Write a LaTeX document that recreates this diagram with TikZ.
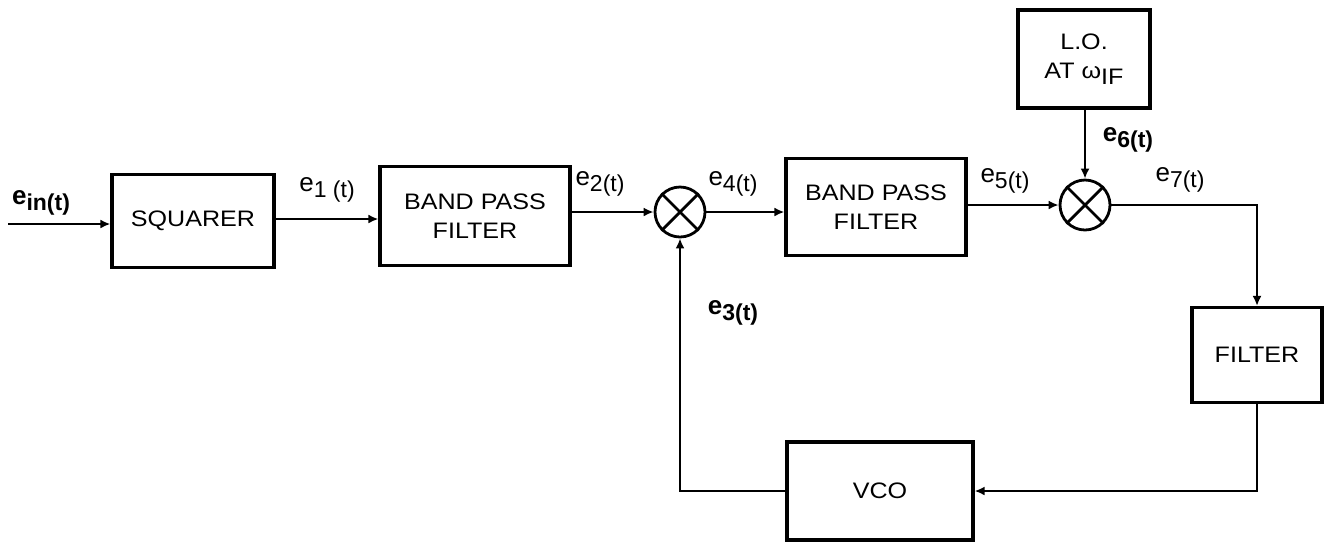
\documentclass[tikz,border=0pt]{standalone}
\usepackage{fontspec}
\setmainfont{Liberation Sans}
\newfontfamily\boxfont[FakeStretch=1.12]{Liberation Sans}
\usetikzlibrary{arrows.meta}
\tikzset{
  blk/.style={draw, line width=1.6pt, rectangle, align=center, inner sep=0pt,
    font=\boxfont\fontsize{11.2}{14.5}\selectfont},
  mix/.style={draw, line width=1.4pt, circle, minimum size=25pt, inner sep=0pt},
  wire/.style={line width=1.4pt},
  sig/.style={wire, -{Latex[length=5pt,width=4.5pt]}},
  lbl/.style={font=\fontsize{11.5}{13}\selectfont, inner sep=0pt},
  blbl/.style={font=\bfseries\fontsize{11.5}{13}\selectfont, inner sep=0pt},
}
\newcommand{\sigl}[1]{{\fontsize{13}{14}\selectfont e}\raisebox{-0.55ex}{#1}}
\begin{document}
\begin{tikzpicture}[x=0.5pt,y=-0.5pt]
\useasboundingbox (0,0) rectangle (1331,543);
% blocks
\node[blk, minimum width=81pt, minimum height=46.5pt] (sq) at (193,221) {SQUARER};
\node[blk, minimum width=95pt, minimum height=49.5pt] (bp1) at (475,216) {BAND PASS\\FILTER};
\node[mix] (m1) at (680,212) {};
\draw[wire] (m1.north east) -- (m1.south west) (m1.north west) -- (m1.south east);
\node[blk, minimum width=90pt, minimum height=48.5pt] (bp2) at (876,207) {BAND PASS\\FILTER};
\node[mix] (m2) at (1085,205) {};
\draw[wire] (m2.north east) -- (m2.south west) (m2.north west) -- (m2.south east);
\node[blk, minimum width=66pt, minimum height=49pt] (lo) at (1084,59) {L.O.\\AT ω\raisebox{-0.5ex}{IF}};
\node[blk, minimum width=65pt, minimum height=47.5pt] (flt) at (1257,355) {FILTER};
\node[blk, minimum width=93pt, minimum height=49pt] (vco) at (880,491) {VCO};
% connectors
\coordinate (in) at (8,224);
\draw[sig] (in) -- (in -| sq.west);
\draw[sig] (sq.east |- 0,219) -- (bp1.west |- 0,219);
\draw[sig] (bp1.east |- m1) -- (m1.west);
\draw[sig] (m1.east) -- (bp2.west |- m1.east);
\draw[sig] (bp2.east |- m2) -- (m2.west);
\draw[sig] (lo.south -| m2) -- (m2.north);
\draw[sig] (m2.east) -| (flt.north);
\draw[sig] (flt.south) |- (vco.east);
\draw[sig] (vco.west) -| (m1.south);
% labels
\node[blbl] (lin) at (41,203) {\sigl{in(t)}};
\node[lbl] (l1) at (327,190) {\sigl{1 (t)}};
\node[lbl] (l2) at (600,184) {\sigl{2(t)}};
\node[lbl] (l4) at (733,184) {\sigl{4(t)}};
\node[lbl] (l5) at (1005,181) {\sigl{5(t)}};
\node[blbl] (l6) at (1128,140) {\sigl{6(t)}};
\node[lbl] (l7) at (1180,180) {\sigl{7(t)}};
\node[blbl] (l3) at (733,313) {\sigl{3(t)}};
\end{tikzpicture}
\end{document}
